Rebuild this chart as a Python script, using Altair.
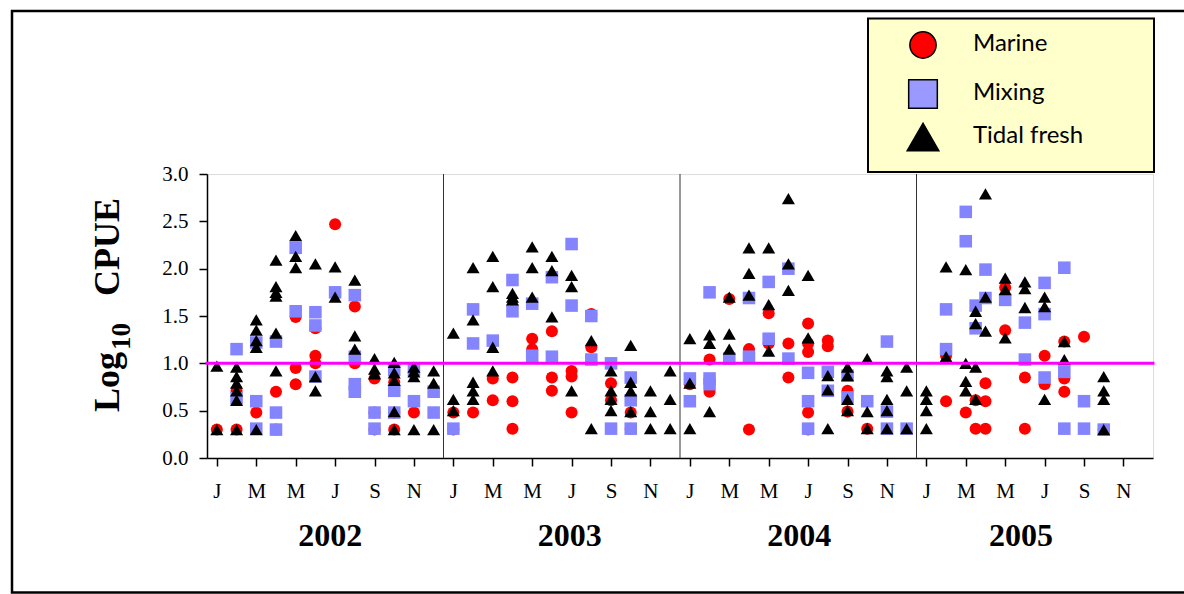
import altair as alt
import pandas as pd

CATEGORIES = ["Marine", "Mixing", "Tidal fresh"]
COLORS = ["#FF0000", "#8484FF", "#000000"]
LEGEND_COLORS = ["#FF0000", "#9999FF", "#000000"]
SHAPES = ["circle", "square", "triangle-up"]
YEARS = [2002, 2003, 2004, 2005]
MONTH_TICK_LABELS = ["J", "", "M", "", "M", "", "J", "", "S", "", "N", ""]

# (year, month 1-12 (fractional = between months), log10 CPUE)
MARINE = [
    (2002, 1, 0.30), (2002, 2, 0.30), (2002, 2, 0.71), (2002, 3, 0.48), (2002, 4, 0.70), (2002, 4, 0.30),
    (2002, 5, 1.49), (2002, 5, 0.95), (2002, 5, 0.78), (2002, 6, 1.37), (2002, 6, 1.08), (2002, 6, 1.00),
    (2002, 7, 2.47), (2002, 7, 1.74), (2002, 8, 1.60), (2002, 8, 1.00), (2002, 9, 0.84), (2002, 9, 0.48),
    (2002, 9, 0.30), (2002, 10, 0.80), (2002, 10, 0.48), (2002, 10, 0.30), (2002, 11, 0.48),
    (2003, 1, 0.48), (2003, 1, 0.30), (2003, 2, 0.48), (2003, 3, 0.84), (2003, 3, 0.61), (2003, 4, 0.85),
    (2003, 4, 0.60), (2003, 4, 0.31), (2003, 5, 1.26), (2003, 5, 1.15), (2003, 6, 1.34), (2003, 6, 0.85),
    (2003, 6, 0.71), (2003, 7, 0.92), (2003, 7, 0.86), (2003, 7, 0.48), (2003, 8, 1.52), (2003, 8, 1.17),
    (2003, 9, 0.79), (2003, 9, 0.61), (2003, 10, 0.48), (2003, 10, 0.31),
    (2004, 1, 0.78), (2004, 2, 1.04), (2004, 2, 0.70), (2004, 3, 1.68), (2004, 4, 1.15), (2004, 4, 0.30),
    (2004, 5, 1.53), (2004, 5, 1.21), (2004, 6, 1.21), (2004, 6, 0.85), (2004, 7, 1.42), (2004, 7, 1.21),
    (2004, 7, 1.12), (2004, 7, 0.48), (2004, 7, 0.30), (2004, 8, 1.24), (2004, 8, 1.18), (2004, 9, 0.71),
    (2004, 9, 0.49), (2004, 10, 0.31),
    (2005, 2, 1.08), (2005, 2, 0.60), (2005, 3, 0.48), (2005, 3.5, 0.61), (2005, 3.5, 0.31), (2005, 4, 0.79),
    (2005, 4, 0.60), (2005, 4, 0.31), (2005, 5, 1.80), (2005, 5, 1.35), (2005, 6, 0.85), (2005, 6, 0.31),
    (2005, 7, 1.08), (2005, 7, 0.78), (2005, 8, 1.23), (2005, 8, 0.84), (2005, 8, 0.70), (2005, 9, 1.28),
    (2005, 10, 0.30),
]

MIXING = [
    (2002, 2, 1.15), (2002, 2, 0.63), (2002, 3, 1.22), (2002, 3, 0.60), (2002, 3, 0.31), (2002, 4, 1.23),
    (2002, 4, 0.48), (2002, 4, 0.30), (2002, 5, 2.22), (2002, 5, 1.55), (2002, 6, 1.54), (2002, 6, 1.40),
    (2002, 6, 0.86), (2002, 7, 1.75), (2002, 8, 1.72), (2002, 8, 1.07), (2002, 8, 0.78), (2002, 8, 0.70),
    (2002, 9, 0.48), (2002, 9, 0.31), (2002, 10, 0.93), (2002, 10, 0.71), (2002, 10, 0.48), (2002, 11, 0.93),
    (2002, 11, 0.60), (2002, 12, 0.70), (2002, 12, 0.48),
    (2003, 1, 0.31), (2003, 2, 1.57), (2003, 2, 1.21), (2003, 3, 1.24), (2003, 4, 1.88), (2003, 4, 1.55),
    (2003, 5, 1.63), (2003, 5, 1.08), (2003, 6, 1.91), (2003, 6, 1.07), (2003, 7, 2.26), (2003, 7, 1.61),
    (2003, 8, 1.50), (2003, 8, 1.04), (2003, 9, 1.00), (2003, 9, 0.31), (2003, 10, 0.85), (2003, 10, 0.61),
    (2003, 10, 0.31),
    (2004, 1, 0.84), (2004, 1, 0.60), (2004, 2, 1.75), (2004, 2, 0.84), (2004, 2, 0.78), (2004, 3, 1.05),
    (2004, 4, 1.69), (2004, 4, 1.07), (2004, 5, 1.86), (2004, 5, 1.26), (2004, 6, 2.00), (2004, 6, 1.05),
    (2004, 7, 0.90), (2004, 7, 0.60), (2004, 7, 0.31), (2004, 8, 0.91), (2004, 8, 0.71), (2004, 9, 0.87),
    (2004, 9, 0.64), (2004, 10, 0.60), (2004, 11, 1.23), (2004, 11, 0.49), (2004, 11, 0.31), (2004, 12, 0.31),
    (2005, 2, 1.57), (2005, 2, 1.15), (2005, 3, 2.60), (2005, 3, 2.29), (2005, 3.5, 1.61), (2005, 3.5, 1.37),
    (2005, 4, 1.99), (2005, 4, 1.69), (2005, 5, 1.67), (2005, 6, 1.43), (2005, 6, 1.04), (2005, 7, 1.85),
    (2005, 7, 1.52), (2005, 7, 0.85), (2005, 8, 2.01), (2005, 8, 0.91), (2005, 8, 0.31), (2005, 9, 0.60),
    (2005, 9, 0.31), (2005, 10, 0.30),
]

TIDAL_FRESH = [
    (2002, 1, 0.97), (2002, 1, 0.30), (2002, 2, 0.96), (2002, 2, 0.86), (2002, 2, 0.79), (2002, 2, 0.71),
    (2002, 2, 0.61), (2002, 2, 0.30), (2002, 3, 1.46), (2002, 3, 1.35), (2002, 3, 1.24), (2002, 3, 1.17),
    (2002, 3, 0.30), (2002, 4, 2.09), (2002, 4, 1.81), (2002, 4, 1.75), (2002, 4, 1.71), (2002, 4, 1.32),
    (2002, 4, 0.92), (2002, 5, 2.35), (2002, 5, 2.13), (2002, 5, 2.01), (2002, 6, 2.05), (2002, 6, 0.86),
    (2002, 6, 0.71), (2002, 7, 2.02), (2002, 7, 1.70), (2002, 8, 1.88), (2002, 8, 1.29), (2002, 8, 1.15),
    (2002, 9, 1.05), (2002, 9, 0.94), (2002, 9, 0.89), (2002, 10, 1.01), (2002, 10, 0.90), (2002, 10, 0.82),
    (2002, 10, 0.49), (2002, 10, 0.30), (2002, 11, 0.96), (2002, 11, 0.91), (2002, 11, 0.86), (2002, 11, 0.30),
    (2002, 12, 0.92), (2002, 12, 0.79), (2002, 12, 0.30),
    (2003, 1, 1.32), (2003, 1, 0.62), (2003, 1, 0.50), (2003, 2, 2.01), (2003, 2, 1.46), (2003, 2, 0.80),
    (2003, 2, 0.71), (2003, 2, 0.62), (2003, 3, 2.13), (2003, 3, 1.81), (2003, 3, 1.17), (2003, 3, 0.92),
    (2003, 4, 1.74), (2003, 4, 1.70), (2003, 4, 1.67), (2003, 5, 2.23), (2003, 5, 2.01), (2003, 5, 1.70),
    (2003, 6, 2.13), (2003, 6, 1.98), (2003, 6, 1.49), (2003, 7, 1.93), (2003, 7, 1.81), (2003, 7, 0.71),
    (2003, 8, 1.24), (2003, 8, 0.31), (2003, 9, 0.92), (2003, 9, 0.71), (2003, 9, 0.62), (2003, 9, 0.50),
    (2003, 10, 1.19), (2003, 10, 0.80), (2003, 10, 0.71), (2003, 10, 0.49), (2003, 11, 0.71), (2003, 11, 0.49),
    (2003, 11, 0.31), (2003, 12, 0.92), (2003, 12, 0.62), (2003, 12, 0.31),
    (2004, 1, 1.26), (2004, 1, 0.79), (2004, 1, 0.31), (2004, 2, 1.30), (2004, 2, 1.21), (2004, 2, 0.49),
    (2004, 3, 1.70), (2004, 3, 1.31), (2004, 3, 1.15), (2004, 4, 2.22), (2004, 4, 1.95), (2004, 4, 1.72),
    (2004, 5, 2.22), (2004, 5, 1.62), (2004, 5, 1.13), (2004, 6, 2.74), (2004, 6, 2.05), (2004, 6, 1.77),
    (2004, 7, 1.93), (2004, 7, 1.27), (2004, 8, 0.87), (2004, 8, 0.72), (2004, 8, 0.31), (2004, 9, 0.96),
    (2004, 9, 0.87), (2004, 9, 0.62), (2004, 9, 0.50), (2004, 10, 1.05), (2004, 10, 0.49), (2004, 10, 0.31),
    (2004, 11, 0.92), (2004, 11, 0.86), (2004, 11, 0.62), (2004, 11, 0.50), (2004, 11, 0.31), (2004, 12, 0.96),
    (2004, 12, 0.71), (2004, 12, 0.31),
    (2005, 1, 0.71), (2005, 1, 0.62), (2005, 1, 0.50), (2005, 1, 0.31), (2005, 2, 2.02), (2005, 2, 1.07),
    (2005, 3, 1.99), (2005, 3, 1.00), (2005, 3, 0.81), (2005, 3, 0.71), (2005, 3.5, 1.55), (2005, 3.5, 1.42),
    (2005, 3.5, 0.96), (2005, 3.5, 0.62), (2005, 4, 2.79), (2005, 4, 1.70), (2005, 4, 1.34), (2005, 5, 1.90),
    (2005, 5, 1.78), (2005, 5, 1.27), (2005, 6, 1.86), (2005, 6, 1.79), (2005, 6, 1.59), (2005, 7, 1.70),
    (2005, 7, 1.60), (2005, 7, 0.62), (2005, 8, 1.23), (2005, 8, 1.04), (2005, 10, 0.86), (2005, 10, 0.71),
    (2005, 10, 0.62), (2005, 10, 0.30),
]

REFERENCE_LEVEL = 1.0

# ---------------- build tables ----------------
rows = []
for cat, series in zip(CATEGORIES, [MARINE, MIXING, TIDAL_FRESH]):
    for yr, mo, val in series:
        rows.append({"group": cat, "t": (yr - YEARS[0]) * 12 + mo - 0.5, "cpue": val})
points_df = pd.DataFrame(rows)

n_months = 12 * len(YEARS)
divider_df = pd.DataFrame({"t": [12 * i for i in range(1, len(YEARS))]})
year_df = pd.DataFrame({"year": [str(y) for y in YEARS],
                        "t": [12 * i + c for i, c in enumerate([6.25, 6.4, 6.05, 5.3])]})
ref_df = pd.DataFrame({"t": [0], "t2": [n_months], "y": [REFERENCE_LEVEL]})

# layout (pixels)
W, H = 946, 284
LEFT, TOP = 207, 174
SERIF = "Liberation Serif"

x_scale = alt.Scale(domain=[0, n_months], nice=False, zero=False)
y_scale = alt.Scale(domain=[0, 3], nice=False)

label_js = "[" + ",".join("'%s'" % s for s in MONTH_TICK_LABELS) + "]"
x_axis = alt.Axis(values=[i + 0.5 for i in range(n_months)],
                  labelExpr=label_js + "[floor(datum.value) % 12]",
                  title=None, grid=False, tickSize=8, labelPadding=14, labelFont=SERIF,
                  labelFontSize=21, labelOverlap=False, labelAngle=0, labelColor="black",
                  domainColor="black", tickColor="black", domainWidth=1.5, tickWidth=1.5)
y_axis = alt.Axis(values=[0, 0.5, 1.0, 1.5, 2.0, 2.5, 3.0], format=".1f", title=None, grid=False,
                  tickSize=8, labelPadding=11, labelFont=SERIF, labelFontSize=21, labelColor="black",
                  domainColor="black", tickColor="black", domainWidth=1.5, tickWidth=1.5)

base_px = alt.Chart(pd.DataFrame({"k": [0]}))

outer = base_px.mark_rect(fillOpacity=0, stroke="black", strokeWidth=2.5).encode(
    x=alt.value(12 - LEFT), x2=alt.value(1200 - LEFT), y=alt.value(11 - TOP), y2=alt.value(592.5 - TOP))

legend_box = base_px.mark_rect(fill="#FFFFCC", stroke="black", strokeWidth=2).encode(
    x=alt.value(868 - LEFT), x2=alt.value(1154 - LEFT), y=alt.value(18.5 - TOP), y2=alt.value(172 - TOP))

# legend entries (drawn inside the yellow box)
LEGEND_ROW_Y = [45, 94, 137]
LEGEND_SYMBOL_SIZE = [690, 820, 1000]
legend_layers = []
for cat, col, shp, ry, sz in zip(CATEGORIES, LEGEND_COLORS, SHAPES, LEGEND_ROW_Y, LEGEND_SYMBOL_SIZE):
    legend_layers.append(
        base_px.mark_point(shape=shp, filled=True, fill=col, stroke="black", strokeWidth=1.5,
                           size=sz, opacity=1).encode(x=alt.value(923 - LEFT), y=alt.value(ry - TOP)))
    legend_layers.append(
        base_px.mark_text(text=cat, font="Lato", fontSize=24, align="left", baseline="middle",
                          color="black").encode(x=alt.value(973 - LEFT), y=alt.value(ry - 1 - TOP)))

dividers = alt.Chart(divider_df).mark_rule(color="#333333", strokeWidth=1).encode(
    x=alt.X("t:Q", scale=x_scale, axis=x_axis))

pts = alt.Chart(points_df).mark_point(filled=True, opacity=1).encode(
    x=alt.X("t:Q", scale=x_scale, axis=x_axis),
    y=alt.Y("cpue:Q", scale=y_scale, axis=y_axis),
    color=alt.Color("group:N", scale=alt.Scale(domain=CATEGORIES, range=COLORS), legend=None),
    shape=alt.Shape("group:N", scale=alt.Scale(domain=CATEGORIES, range=SHAPES), legend=None),
    size=alt.Size("group:N", scale=alt.Scale(domain=CATEGORIES, range=[145, 170, 205]), legend=None),
)

ref_line = alt.Chart(ref_df).mark_rule(color="#FF00FF", strokeWidth=3, strokeCap="square").encode(
    x=alt.X("t:Q", scale=x_scale), x2="t2:Q", y=alt.Y("y:Q", scale=y_scale))

years = alt.Chart(year_df).mark_text(font=SERIF, fontSize=32, fontWeight="bold", baseline="middle",
                                     color="black").encode(
    x=alt.X("t:Q", scale=x_scale), y=alt.value(536 - TOP), text="year:N")

t_log = base_px.mark_text(text="Log", angle=270, align="left", baseline="alphabetic", font=SERIF,
                          fontSize=36, fontWeight="bold", color="black").encode(
    x=alt.value(119 - LEFT), y=alt.value(412 - TOP))
t_sub = base_px.mark_text(text="10", angle=270, align="left", baseline="alphabetic", font=SERIF,
                          fontSize=27, fontWeight="bold", color="black").encode(
    x=alt.value(130 - LEFT), y=alt.value(350 - TOP))
t_cpue = base_px.mark_text(text="CPUE", angle=270, align="left", baseline="alphabetic", font=SERIF,
                           fontSize=36, fontWeight="bold", color="black").encode(
    x=alt.value(119 - LEFT), y=alt.value(296 - TOP))

chart = alt.layer(outer, legend_box, *legend_layers, dividers, pts, ref_line, years,
                  t_log, t_sub, t_cpue).properties(
    width=W, height=H,
    padding={"left": LEFT, "top": TOP, "right": 1184 - LEFT - W, "bottom": 594 - TOP - H},
    autosize=alt.AutoSizeParams(type="none"),
).configure_view(stroke="black", strokeWidth=1.5).configure(background="white")

chart.save("out.html", embed_options={"renderer": "svg", "actions": False})
